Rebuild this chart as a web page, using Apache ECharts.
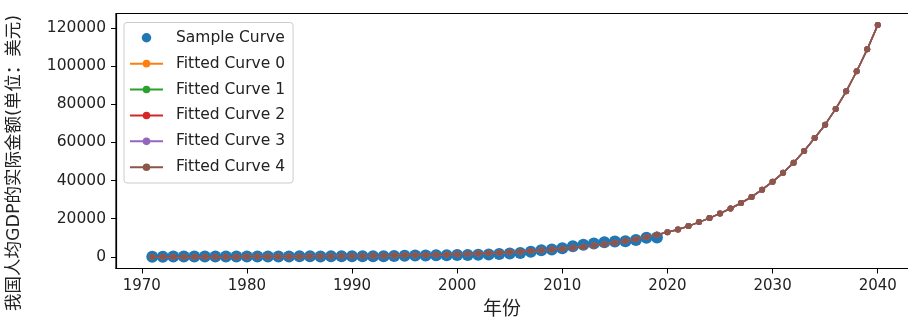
<!DOCTYPE html>
<html>
<head>
<meta charset="utf-8">
<script src="https://cdn.jsdelivr.net/npm/echarts@6/dist/echarts.min.js"></script>
<style>
html,body{margin:0;padding:0;background:#fff;}
#chart{width:908px;height:322px;}
</style>
</head>
<body>
<div id="chart"></div>
<script>
// ---- data ----
const sampleYears = [1971,1972,1973,1974,1975,1976,1977,1978,1979,1980,1981,1982,1983,1984,1985,1986,1987,1988,1989,1990,1991,1992,1993,1994,1995,1996,1997,1998,1999,2000,2001,2002,2003,2004,2005,2006,2007,2008,2009,2010,2011,2012,2013,2014,2015,2016,2017,2018,2019];
const sampleValues = [119,132,157,160,178,165,185,156,184,195,197,203,225,251,294,282,252,284,311,318,333,366,377,473,610,709,782,829,873,959,1053,1149,1289,1509,1753,2099,2694,3468,3832,4550,5618,6317,7051,7679,8067,8148,8879,9977,10217];
const fitYears = [1971,1972,1973,1974,1975,1976,1977,1978,1979,1980,1981,1982,1983,1984,1985,1986,1987,1988,1989,1990,1991,1992,1993,1994,1995,1996,1997,1998,1999,2000,2001,2002,2003,2004,2005,2006,2007,2008,2009,2010,2011,2012,2013,2014,2015,2016,2017,2018,2019,2020,2021,2022,2023,2024,2025,2026,2027,2028,2029,2030,2031,2032,2033,2034,2035,2036,2037,2038,2039,2040];
const fitValues = [56,62,70,78,87,97,109,122,136,152,170,190,212,237,265,296,331,370,413,462,516,577,645,720,810,900,1010,1130,1260,1410,1570,1760,1970,2200,2460,2740,3070,3430,3830,4280,4780,5340,5970,6670,7450,8330,9300,10400,11600,12940,14350,16150,18250,20350,22800,25350,28250,31450,35250,39450,44050,49400,55500,62300,69300,77550,86800,97300,108800,121500];
const fittedNames = ['Fitted Curve 0','Fitted Curve 1','Fitted Curve 2','Fitted Curve 3','Fitted Curve 4'];
const fittedColors = ['#ff7f0e','#2ca02c','#d62728','#9467bd','#8c564b'];
const xTicks = [1970,1980,1990,2000,2010,2020,2030,2040];
const yTicks = [0,20000,40000,60000,80000,100000,120000];
const yTitle = '我国人均GDP的实际金额(单位：美元)';
const xTitle = '年份';

const FONT = 'DejaVu Sans, "Noto Sans CJK SC", sans-serif';
const chart = echarts.init(document.getElementById('chart'), null, {renderer:'canvas'});

const series = [{
  name: 'Sample Curve',
  type: 'scatter',
  data: sampleYears.map((y,i)=>[y, sampleValues[i]]),
  symbol: 'circle',
  symbolSize: 12,
  itemStyle: {color:'#1f77b4', opacity:1},
  z: 2
}];
fittedNames.forEach((n,k)=>{
  series.push({
    name: n,
    type: 'line',
    data: fitYears.map((y,i)=>[y, fitValues[i]]),
    symbol: 'circle',
    symbolSize: 6,
    showSymbol: true,
    lineStyle: {color: fittedColors[k], width: 1.5},
    itemStyle: {color: fittedColors[k]},
    emphasis: {disabled:true},
    z: 3 + k
  });
});

chart.setOption({
  animation: false,
  backgroundColor: '#fff',
  textStyle: {fontFamily: FONT},
  grid: {left: 116, top: 13.5, width: 798, height: 255, show: true, borderColor:'#000', borderWidth:1.2, containLabel:false, outerBoundsMode:'none'},
  xAxis: {
    type: 'value', min: 1967.55, max: 2043.45,
    splitLine: {show:false},
    axisLine: {onZero:false, lineStyle:{color:'#000', width:1.2}},
    axisTick: {show:true, inside:false, length:5, customValues: xTicks, lineStyle:{color:'#000', width:1}},
    axisLabel: {customValues: xTicks, margin: 10, color:'#222', fontSize: 15, fontFamily: FONT, formatter: v => String(v)}
  },
  yAxis: {
    type: 'value', min: -6080, max: 127580,
    splitLine: {show:false},
    axisLine: {show:true, onZero:false, lineStyle:{color:'#000', width:1.2}},
    axisTick: {show:true, inside:false, length:5, customValues: yTicks, lineStyle:{color:'#000', width:1}},
    axisLabel: {customValues: yTicks, margin: 10, color:'#222', fontSize: 15.5, fontFamily: FONT, formatter: v => String(v)}
  },
  legend: {
    orient: 'vertical', left: 124, top: 22.5,
    itemWidth: 33, itemHeight: 9.5, itemGap: 10.4,
    padding: [7.5, 8, 8, 5],
    backgroundColor: 'rgba(255,255,255,0.8)',
    borderColor: '#cccccc', borderWidth: 1, borderRadius: 3,
    textStyle: {fontSize: 15.5, color:'#222', fontFamily: FONT, padding:[0,0,0,8]},
    data: [{name:'Sample Curve', icon:'circle'}].concat(fittedNames.map(n=>({name:n})))
  },
  graphic: [
    {type:'text', x: 14, y: 163, rotation: Math.PI/2, style:{text: yTitle, fontSize: 17.5, fontFamily: FONT, fill:'#222', align:'center', verticalAlign:'middle'}},
    {type:'text', x: 502, y: 310, style:{text: xTitle, fontSize: 19, fontFamily: FONT, fill:'#222', align:'center', verticalAlign:'middle'}}
  ],
  series: series
});
</script>
</body>
</html>
